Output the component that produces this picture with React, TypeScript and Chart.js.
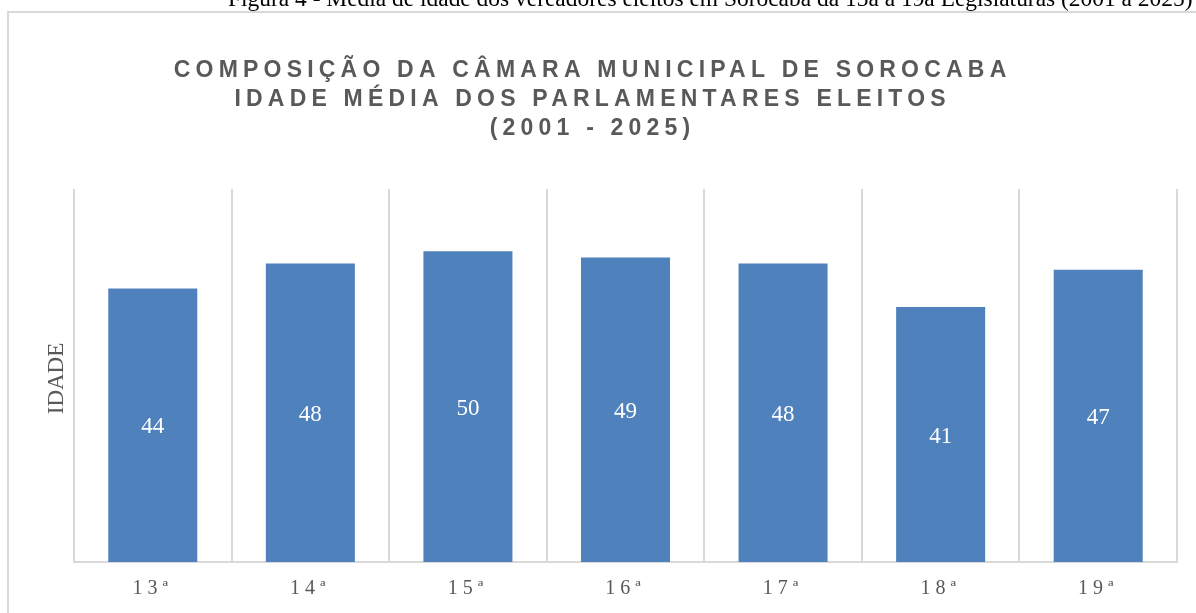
import React, { useEffect, useRef } from "react";
import { Chart, registerables } from "chart.js";

Chart.register(...registerables);

const categories = ["13ª", "14ª", "15ª", "16ª", "17ª", "18ª", "19ª"];
const idadeMedia = [44, 48, 50, 49, 48, 41, 47];
const yTicksRange = [0, 60];
const titleLines = [
  "COMPOSIÇÃO DA CÂMARA MUNICIPAL DE SOROCABA",
  "IDADE MÉDIA DOS PARLAMENTARES ELEITOS",
  "(2001 - 2025)",
];
const caption =
  "Figura 4 - Média de idade dos vereadores eleitos em Sorocaba da 13a à 19a Legislaturas (2001 a 2025)";
const yAxisTitle = "IDADE";

const BAR_COLOR = "#4F81BD";
const GRID_COLOR = "#D9D9D9";
const TEXT_GRAY = "#595959";
const SERIF = "'Liberation Serif', 'DejaVu Serif', serif";
const SANS = "'Liberation Sans', Arial, sans-serif";

const decorPlugin = {
  id: "decor",
  beforeDraw(chart: any) {
    const ctx = chart.ctx as CanvasRenderingContext2D;
    ctx.save();
    ctx.fillStyle = "#ffffff";
    ctx.fillRect(0, 0, chart.width, chart.height);

    // caption (cut at top)
    ctx.fillStyle = "#000000";
    ctx.textAlign = "left";
    ctx.textBaseline = "alphabetic";
    ctx.font = `20px ${SERIF}`;
    const w = ctx.measureText(caption).width;
    const fs = (20 * 965) / w;
    ctx.font = `${fs.toFixed(2)}px ${SERIF}`;
    ctx.fillText(caption, 228, 6);

    // chart box border
    ctx.strokeStyle = GRID_COLOR;
    ctx.lineWidth = 2;
    ctx.strokeRect(8, 12, 1400, 800);

    // title
    ctx.fillStyle = TEXT_GRAY;
    ctx.textAlign = "center";
    ctx.textBaseline = "middle";
    ctx.font = `bold 23px ${SANS}`;
    (ctx as any).letterSpacing = "5.2px";
    const ys = [71, 100, 129];
    titleLines.forEach((t, i) => ctx.fillText(t, 590 + 2.6, ys[i]));
    (ctx as any).letterSpacing = "0px";

    // y axis title
    const area = chart.chartArea;
    ctx.save();
    ctx.translate(57, (area.top + area.bottom) / 2 + 3);
    ctx.rotate(-Math.PI / 2);
    ctx.font = `23px ${SERIF}`;
    ctx.fillStyle = TEXT_GRAY;
    ctx.textAlign = "center";
    ctx.textBaseline = "middle";
    ctx.fillText(yAxisTitle, 0, 0);
    ctx.restore();
    ctx.restore();

    // letter spacing for x tick labels
    (ctx as any).letterSpacing = "5px";
  },
  beforeDatasetsDraw(chart: any) {
    (chart.ctx as any).letterSpacing = "0px";
  },
  afterDatasetsDraw(chart: any) {
    const ctx = chart.ctx as CanvasRenderingContext2D;
    const meta = chart.getDatasetMeta(0);
    ctx.save();
    (ctx as any).letterSpacing = "0px";
    ctx.fillStyle = "#ffffff";
    ctx.font = `23px ${SERIF}`;
    ctx.textAlign = "center";
    ctx.textBaseline = "middle";
    meta.data.forEach((bar: any, i: number) => {
      const y = (bar.y + bar.base) / 2 + 2;
      ctx.fillText(String(chart.data.datasets[0].data[i]), bar.x, y);
    });
    ctx.restore();
  },
};

export default function App() {
  const ref = useRef<HTMLCanvasElement | null>(null);
  useEffect(() => {
    if (!ref.current) return;
    const chart = new Chart(ref.current, {
      type: "bar",
      data: {
        labels: categories,
        datasets: [
          {
            label: yAxisTitle,
            data: idadeMedia,
            backgroundColor: BAR_COLOR,
            borderWidth: 0,
            categoryPercentage: 1,
            barPercentage: 0.565,
          },
        ],
      },
      options: {
        responsive: false,
        devicePixelRatio: 1,
        animation: false,
        layout: { padding: { left: 74, right: 19, top: 189, bottom: 0 } },
        plugins: {
          legend: { display: false },
          title: { display: false },
          tooltip: { enabled: false },
        },
        scales: {
          x: {
            grid: {
              display: true,
              offset: true,
              color: GRID_COLOR,
              lineWidth: 2,
              drawTicks: false,
            },
            border: { display: true, color: GRID_COLOR, width: 2 },
            ticks: {
              color: TEXT_GRAY,
              padding: 15,
              font: { family: SERIF, size: 20 },
            },
            afterFit(scale: any) {
              scale.height = 51;
            },
          },
          y: {
            display: false,
            min: yTicksRange[0],
            max: yTicksRange[1],
          },
        },
      },
      plugins: [decorPlugin],
    });
    return () => chart.destroy();
  }, []);
  return (
    <div style={{ position: "absolute", left: 0, top: 0, width: 1196, height: 613 }}>
      <canvas ref={ref} width={1196} height={613} style={{ display: "block" }} />
    </div>
  );
}
